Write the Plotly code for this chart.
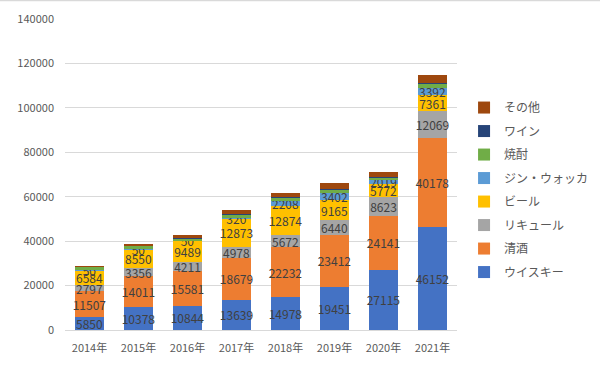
import plotly.graph_objects as go

years = ["2014年", "2015年", "2016年", "2017年", "2018年", "2019年", "2020年", "2021年"]
whisky = [5850, 10378, 10844, 13639, 14978, 19451, 27115, 46152]
sake = [11507, 14011, 15581, 18679, 22232, 23412, 24141, 40178]
liqueur = [2797, 3356, 4211, 4978, 5672, 6440, 8623, 12069]
beer = [6584, 8550, 9489, 12873, 12874, 9165, 5772, 7361]
gin_vodka = [50, 50, 50, 320, 2208, 3402, 2019, 3392]
shochu = [1600, 1500, 1200, 1500, 1500, 1500, 1000, 1712]
wine = [100, 200, 150, 300, 200, 200, 300, 500]
other = [300, 700, 1200, 1700, 2100, 2500, 2000, 3300]

series = [
    ("ウイスキー", whisky, "#4472C4", True),
    ("清酒", sake, "#ED7D31", True),
    ("リキュール", liqueur, "#A5A5A5", True),
    ("ビール", beer, "#FFC000", True),
    ("ジン・ウォッカ", gin_vodka, "#5B9BD5", True),
    ("焼酎", shochu, "#70AD47", False),
    ("ワイン", wine, "#264478", False),
    ("その他", other, "#9E480E", False),
]

font_family = "Noto Sans CJK JP, Noto Sans, sans-serif"

fig = go.Figure()
for i, (name, vals, color, labeled) in enumerate(series):
    fig.add_trace(go.Bar(
        name=name, x=years, y=vals,
        marker=dict(color=color, line=dict(width=0)),
        text=[str(v) for v in vals] if labeled else None,
        textposition="inside" if labeled else "none",
        insidetextanchor="middle",
        constraintext="none",
        textangle=0,
        textfont=dict(size=12, color="#404040", family=font_family),
        legendgroup=name,
        legendrank=1000 - i,
    ))

fig.update_layout(
    barmode="stack",
    bargap=0.41,
    width=600, height=378,
    margin=dict(l=65, r=143, t=19, b=48, autoexpand=False),
    paper_bgcolor="white",
    plot_bgcolor="white",
    font=dict(family=font_family, color="#595959", size=11),
    legend=dict(
        traceorder="grouped",
        x=1.018, xanchor="left", xref="paper",
        y=0.45, yanchor="middle",
        font=dict(size=12, color="#595959", family=font_family),
        tracegroupgap=4.5,
        bgcolor="rgba(0,0,0,0)",
    ),
    showlegend=True,
    shapes=[dict(type="line", xref="paper", yref="paper",
                 x0=-65 / 392, x1=535 / 392, y0=1.0595, y1=1.0595,
                 line=dict(color="#D9D9D9", width=1.5))],
)
fig.update_xaxes(showgrid=False, showline=False, ticks="", tickfont=dict(size=11, color="#595959"),
                 ticklabelstandoff=10)
fig.update_yaxes(
    range=[0, 140000], dtick=20000, showgrid=True, gridcolor="#D9D9D9", gridwidth=1,
    zeroline=True, zerolinecolor="#D9D9D9", zerolinewidth=1,
    tickformat="d", ticks="", tickfont=dict(size=11, color="#595959"),
    ticklabelstandoff=10,
)

fig.write_html("out.html", config={"displayModeBar": False},
               post_script="document.body.style.margin='0';")
